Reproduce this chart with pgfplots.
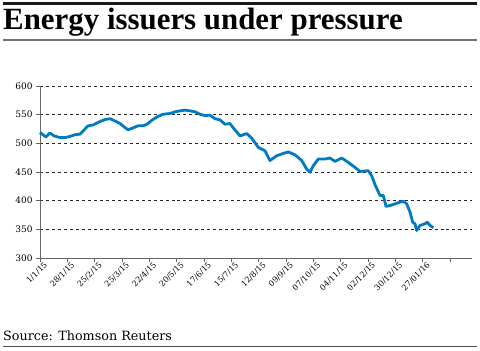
\documentclass[border=0pt]{standalone}
\usepackage{fontspec}
\setmainfont{DejaVu Serif}
\newfontfamily\titlefont{Liberation Serif}
\usepackage{pgfplots}
\pgfplotsset{compat=1.18}
\definecolor{lineblue}{RGB}{0,122,194}
\begin{document}
\begin{tikzpicture}[x=1bp,y=1bp]
\path[fill=white] (0,0) rectangle (480,350);
\fill[black!90] (3,345) rectangle (477,348);
\node[anchor=base west, inner sep=0, font=\titlefont\bfseries\fontsize{31}{33}\selectfont] at (3,320.7) {Energy issuers under pressure};
\draw[black!55, line width=1.5bp] (3,310) -- (477,310);
\node[anchor=base west, inner sep=0, font=\fontsize{12.8}{14}\selectfont] at (3,10) {Source: Thomson Reuters};
\draw[black!70, line width=1.2bp] (3,3.5) -- (477,3.5);
\begin{axis}[at={(40bp,92bp)}, anchor=south west, scale only axis,
  width=432bp, height=172bp,
  xmin=0, xmax=442.6, ymin=300, ymax=600,
  ytick={300,350,...,600},
  xtick={0,28,...,420},
  xticklabels={1/1/15,28/1/15,25/2/15,25/3/15,22/4/15,20/5/15,17/6/15,15/7/15,12/8/15,09/9/15,07/10/15,04/11/15,02/12/15,30/12/15,27/01/16,{}},
  axis x line*=bottom, axis y line*=left,
  axis line style={-, black!60, line width=1bp},
  ymajorgrids, major grid style={dashed, black!85, line width=0.7bp},
  tick style={black!60, line width=0.8bp}, major tick length=4bp, tick align=outside,
  /pgf/number format/assume math mode=true,
  yticklabel style={font=\fontsize{9}{10}\selectfont},
  xticklabel style={rotate=45, anchor=north east, font=\fontsize{8}{9}\selectfont, inner sep=1pt, xshift=4bp, yshift=-1bp},
  clip=false]
\addplot[lineblue, line width=2.8bp, line join=round] coordinates {
(0,519) (6.1,511) (10.2,518) (14.3,513) (20.5,510) (25.6,510) (30.7,512) (35.9,515) (41,516) (46.1,525) (49.2,530.5) (54.3,532) (61.5,538) (66.6,541.5) (71.7,543) (76.8,539) (82,534.5) (87.1,527.6) (90.2,523.5) (95.3,527) (100.4,530.5) (105.5,530.5) (109.6,533.4) (114.7,540.4) (119.9,546) (126,550.8) (133.2,552) (138.3,555) (143.4,556.6) (148.6,558) (153.7,556.6) (158.8,555) (163.9,550.8) (169,548.5) (174.2,549) (179.3,543) (184.4,541) (189.5,533.4) (194.7,534.5) (197.7,527.6) (204.9,513) (211.8,517) (216.9,509) (223.6,493) (230.5,487) (235.6,470) (242.5,478.4) (249.3,482.4) (254.4,485) (261.2,480) (268.1,470) (273.2,455.3) (276.6,449.4) (280,461) (285.1,472.6) (292,472.6) (297.1,474.4) (302.2,468.5) (309.1,474.4) (315.9,466.7) (322.7,458) (327.8,451) (336.3,452.3) (339.8,443.6) (343.2,428) (348.3,409) (351.7,409) (354.5,390) (358.6,391.5) (365.4,395.5) (372.2,399) (375.7,394.5) (379.1,380) (381.8,362.5) (384.2,359.7) (385.9,348) (389.3,356.8) (394.4,359.7) (396.8,362.5) (399.6,356.8) (403,352.8)
};
\end{axis}
\end{tikzpicture}
\end{document}
